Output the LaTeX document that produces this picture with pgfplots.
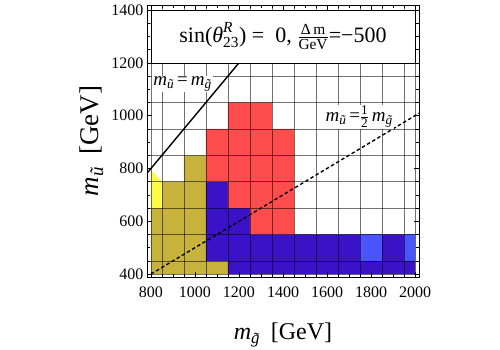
\documentclass[border=0pt]{standalone}
\usepackage{fontspec}
\setmainfont{Liberation Serif}
\usepackage{amsmath}
\usepackage{pgfplots}
\pgfplotsset{compat=1.18}
\definecolor{cOlive}{RGB}{199,178,60}
\definecolor{cYellow}{RGB}{255,250,70}
\definecolor{cRed}{RGB}{255,77,77}
\definecolor{cBlue}{RGB}{58,18,200}
\definecolor{cLBlue}{RGB}{75,85,255}
\begin{document}
\begin{tikzpicture}
\path[use as bounding box] (0,0) rectangle (500pt,350pt);
\begin{axis}[
  at={(147pt,73pt)}, anchor=south west,
  scale only axis, width=272pt, height=272pt,
  xmin=782, xmax=2018, ymin=389, ymax=1419,
  xtick={800,1000,...,2000}, ytick={400,600,...,1400},
  minor tick num=3,
  tick align=inside,
  major tick length=5pt, minor tick length=3pt,
  tick style={black, line width=0.5pt},
  xticklabel={\pgfmathprintnumber[assume math mode=true,1000 sep={}]{\tick}},
  yticklabel={\pgfmathprintnumber[assume math mode=true,1000 sep={}]{\tick}},
  ticklabel style={font=\rmfamily\fontsize{16}{16}\selectfont},
  xticklabel style={yshift=-6pt},
  extra x ticks={800,850,950,1050,1150,1250,1350,1450,1550,1650,1750,1850,1950,2000},
  extra y ticks={400,450,550,650,750,850,950,1050,1150,1250,1350,1400},
  extra x tick labels={}, extra y tick labels={},
  extra tick style={major tick length=0pt, grid=major, major grid style={black, opacity=0.55, line width=0.5pt}},
  axis on top,
  axis line style={line width=0.6pt},
  xlabel={$\text{\itshape m}_{\text{\itshape\~g}}$\hspace{0.45em}[GeV]},
  ylabel={$\text{\itshape m}_{\text{\itshape ũ}}$\hspace{0.45em}[GeV]},
  xlabel style={font=\fontsize{24}{24}\selectfont, at={(axis description cs:0.5,-0.2316)}, anchor=base},
  ylabel style={font=\fontsize{27}{27}\selectfont, at={(axis description cs:-0.1765,0.5)}, anchor=base},
]
% olive region
\addplot[fill=cOlive, draw=none] coordinates {(800,400) (1150,400) (1150,450) (1050,450) (1050,850) (950,850) (950,750) (850,750) (850,650) (800,650)} -- cycle;
% yellow
\addplot[fill=cYellow, draw=none] coordinates {(800,650) (850,650) (850,750) (800,795)} -- cycle;
% dark blue
\addplot[fill=cBlue, draw=none] coordinates {(1050,450) (1150,450) (1150,400) (2000,400) (2000,550) (1250,550) (1250,650) (1150,650) (1150,750) (1050,750)} -- cycle;
% light blue cells
\addplot[fill=cLBlue, draw=none] coordinates {(1750,450) (1850,450) (1850,550) (1750,550)} -- cycle;
\addplot[fill=cLBlue, draw=none] coordinates {(1950,450) (2000,450) (2000,550) (1950,550)} -- cycle;
% red
\addplot[fill=cRed, draw=none] coordinates {(1050,750) (1150,750) (1150,650) (1250,650) (1250,550) (1450,550) (1450,950) (1350,950) (1350,1050) (1150,1050) (1150,950) (1050,950)} -- cycle;
% lines
\addplot[black, line width=1.4pt] coordinates {(782,782) (1260,1260)};
\addplot[black, line width=1.4pt, dash pattern=on 3.5pt off 2.5pt] coordinates {(800,400) (2018,1009)};
\coordinate (tbl) at (axis cs:800,1200);
\coordinate (ttr) at (axis cs:2000,1400);
\coordinate (l1) at (axis cs:806,1120);
\coordinate (l2) at (axis cs:1588,995);
\end{axis}
\draw[fill=white, line width=0.6pt] (tbl) rectangle (ttr);
\path (tbl) -- (ttr) node[midway, font=\fontsize{22}{22}\selectfont] {sin($\text{\itshape θ}^{\text{\itshape R}}_{\text{23}}$) =\ \ 0, $\frac{\text{Δ\,m}}{\text{GeV}}$=−500};
\node[fill=white, inner sep=1pt, anchor=west, font=\fontsize{19}{19}\selectfont] at (l1) {$\text{\itshape m}_{\text{\itshape ũ}}\,\text{=}\,\text{\itshape m}_{\text{\itshape\~g}}$};
\node[fill=white, inner sep=1pt, anchor=west, font=\fontsize{19}{19}\selectfont] at (l2) {$\text{\itshape m}_{\text{\itshape ũ}}\,\text{=}\frac{\text{1}}{\text{2}}\,\text{\itshape m}_{\text{\itshape\~g}}$};
\end{tikzpicture}
\end{document}
